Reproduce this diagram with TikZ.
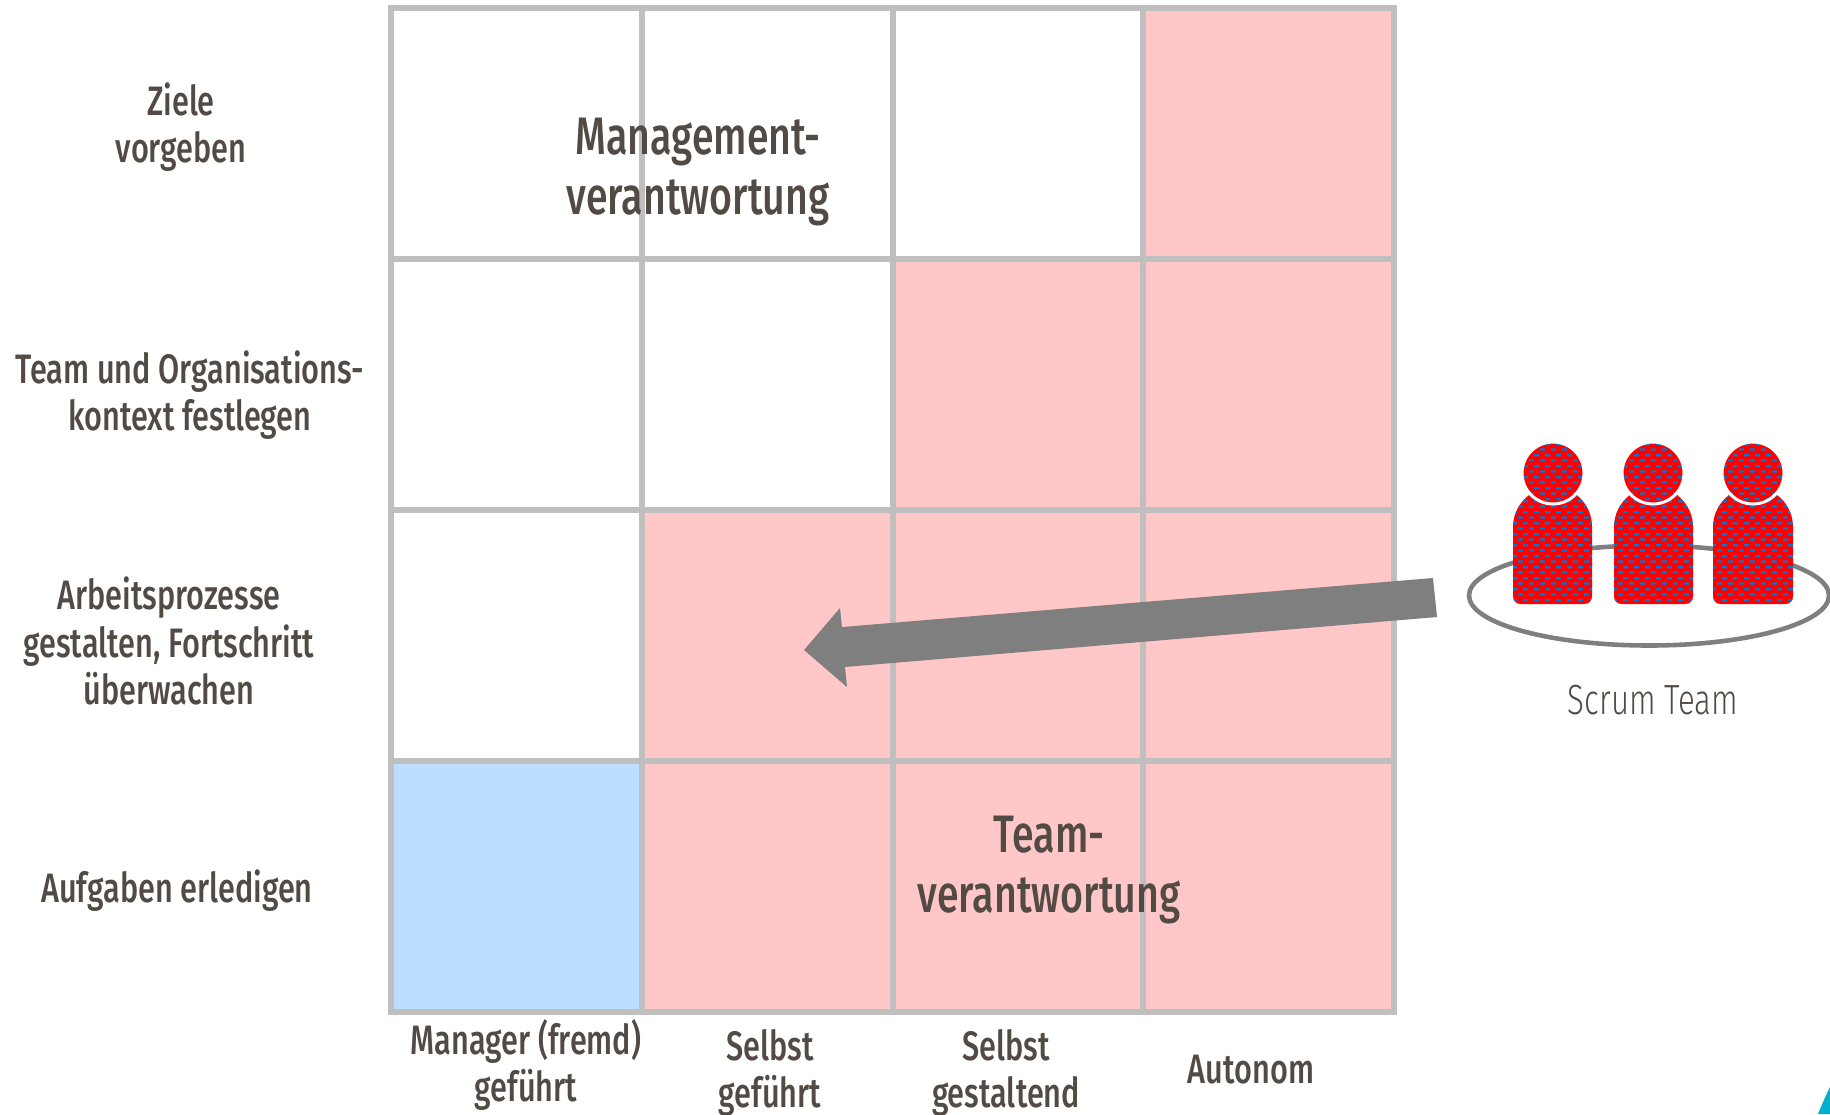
\documentclass[tikz,border=0pt]{standalone}
\usepackage{fontspec}
\setmainfont[FakeStretch=0.745]{Fira Sans Medium}
\newfontfamily\lightfont[FakeStretch=0.74]{Fira Sans Light}
\usepackage{xcolor}
\usetikzlibrary{patterns}

\definecolor{textgrey}{HTML}{524A44}
\definecolor{gridgrey}{HTML}{BFBFBF}
\definecolor{arrowgrey}{HTML}{7F7F7F}
\definecolor{teampink}{HTML}{FFC7C7}
\definecolor{leadblue}{HTML}{BDDFFF}
\definecolor{dashblue}{HTML}{0078D7}
\definecolor{cornerteal}{HTML}{00B0CC}

\pgfdeclarepatternformonly{teamdash}{\pgfqpoint{0pt}{0pt}}{\pgfqpoint{3.13pt}{3.2pt}}{\pgfqpoint{3.13pt}{3.2pt}}{
  \pgfpathrectangle{\pgfqpoint{0pt}{0.4pt}}{\pgfqpoint{1.5pt}{0.7pt}}
  \pgfpathrectangle{\pgfqpoint{1.56pt}{2pt}}{\pgfqpoint{1.5pt}{0.7pt}}
  \pgfusepath{fill}
}

\tikzset{
  gridline/.style={gridgrey, line width=1.5pt},
  rowlabel/.style={text=textgrey, align=center, font=\fontsize{11.7}{13.4}\selectfont},
  biglabel/.style={text=textgrey, align=center, font=\fontsize{15}{17}\selectfont},
  personbody/.style={preaction={fill=red}, pattern=teamdash, pattern color=dashblue},
  personhead/.style={preaction={fill=red}, pattern=teamdash, pattern color=dashblue, draw=white, line width=0.85pt}
}

\begin{document}
\begin{tikzpicture}[x=0.01cm,y=-0.01cm]
\useasboundingbox (0,0) rectangle (1830,1114);
\clip (0,0) rectangle (1830,1114);

%Felder
\fill[teampink] (1143,8) rectangle (1394,259);
\fill[teampink] (893,259) rectangle (1394,510);
\fill[teampink] (642,510) rectangle (1394,761);
\fill[teampink] (642,761) rectangle (1394,1012);
\fill[leadblue] (391,761) rectangle (642,1012);

%Raster
\draw[gridline] (391,8) rectangle (1394,1012);
\draw[gridline] (642,8) to (642,1012);
\draw[gridline] (893,8) to (893,1012);
\draw[gridline] (1143,8) to (1143,1012);
\draw[gridline] (391,259) to (1394,259);
\draw[gridline] (391,510) to (1394,510);
\draw[gridline] (391,761) to (1394,761);

%Zeilen
\node[rowlabel] (ziele) at (181,127) {Ziele\\vorgeben};
\node[rowlabel] (kontext) at (190,395) {Team und Organisations-\\kontext festlegen};
\node[rowlabel] (prozesse) at (169,641) {Arbeitsprozesse\\gestalten, Fortschritt\\überwachen};
\node[rowlabel] (aufgaben) at (177,891) {Aufgaben erledigen};

%Spalten
\node[rowlabel] (manager) at (526,1065) {Manager (fremd)\\geführt};
\node[rowlabel] (gefuehrt) at (770,1073) {Selbst\\geführt};
\node[rowlabel] (gestaltend) at (1006,1073) {Selbst\\gestaltend};
\node[rowlabel] (autonom) at (1251,1070) {Autonom};

\node[biglabel] (management) at (698,172) {Management-\\verantwortung};
\node[biglabel] (team) at (1049,870) {Team-\\verantwortung};

%Pfeil
\fill[arrowgrey] (1433,578) -- (842,627) -- (840,608) -- (804,650) -- (847,687) -- (845,667) -- (1437,617) -- cycle;

%Scrum Team
\draw[arrowgrey, line width=1.3pt] (1649,595.5) ellipse (180 and 50);

\path[personbody] (1513,596) -- (1513,527) .. controls (1513,505) and (1531,487) .. (1553,487) .. controls (1575,487) and (1592,505) .. (1592,527) -- (1592,596) .. controls (1592,601) and (1589,604) .. (1584,604) -- (1521,604) .. controls (1516,604) and (1513,601) .. cycle;
\path[personbody] (1614,596) -- (1614,527) .. controls (1614,505) and (1632,487) .. (1653,487) .. controls (1675,487) and (1693,505) .. (1693,527) -- (1693,596) .. controls (1693,601) and (1690,604) .. (1685,604) -- (1622,604) .. controls (1617,604) and (1614,601) .. cycle;
\path[personbody] (1713,596) -- (1713,527) .. controls (1713,505) and (1731,487) .. (1753,487) .. controls (1775,487) and (1793,505) .. (1793,527) -- (1793,596) .. controls (1793,601) and (1790,604) .. (1785,604) -- (1721,604) .. controls (1716,604) and (1713,601) .. cycle;

\path[personhead] (1553,473) circle (31);
\path[personhead] (1653,473) circle (31);
\path[personhead] (1753,473) circle (31);

\node[text=textgrey, font=\fontsize{12}{13.4}\selectfont\lightfont] (scrum) at (1653,700) {Scrum Team};

%Ecke
\fill[cornerteal] (1818,1114) .. controls (1822,1104) and (1826,1095) .. (1830,1087) -- (1830,1114) -- cycle;

\end{tikzpicture}
\end{document}
